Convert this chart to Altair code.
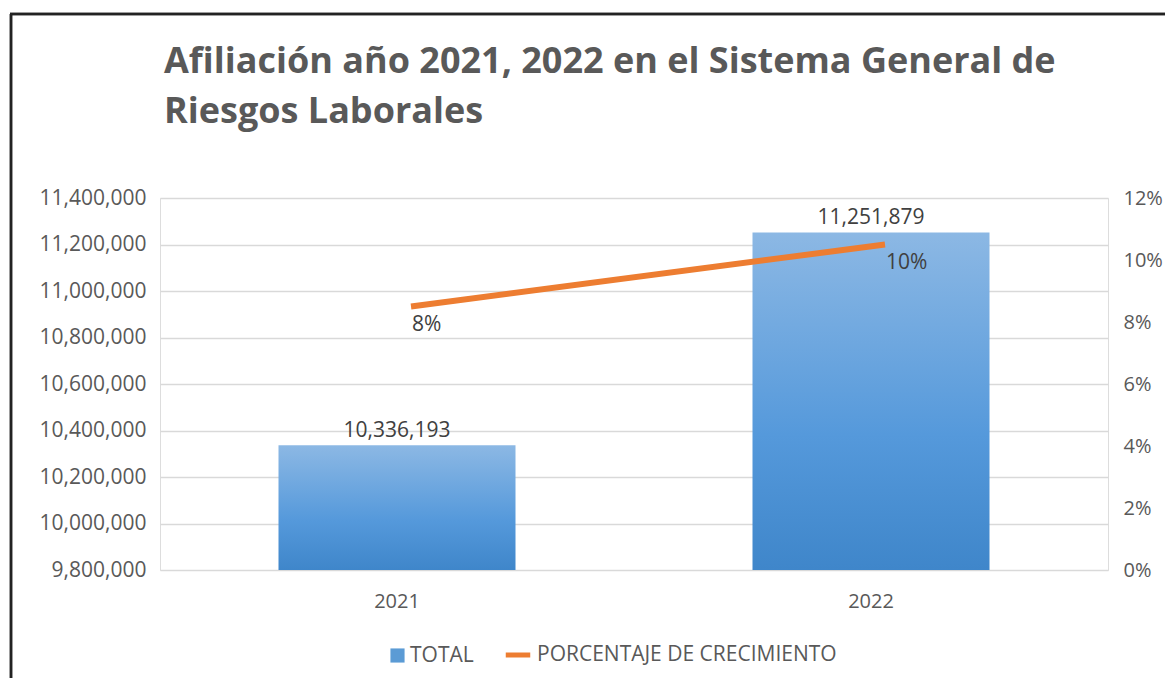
import altair as alt
import pandas as pd

years = ["2021", "2022"]
totals = [10336193, 11251879]
growth = [0.085, 0.105]
growth_labels = ["8%", "10%"]
total_labels = ["10,336,193", "11,251,879"]

AXIS_MIN = 9800000
AXIS_MAX = 11400000
left_ticks = list(range(9800000, 11400001, 200000))
right_ticks = [0, 0.02, 0.04, 0.06, 0.08, 0.10, 0.12]

df = pd.DataFrame({
    "year": years,
    "total": totals,
    "growth": growth,
    "glabel": growth_labels,
    "tlabel": total_labels,
    "s1": ["TOTAL"] * 2,
    "s2": ["PORCENTAJE DE CRECIMIENTO"] * 2,
})

FONT = "Open Sans"
TXT = "#595959"

x = alt.X("year:N", title=None,
          scale=alt.Scale(paddingInner=0.5, paddingOuter=0.25),
          axis=alt.Axis(labelAngle=0, ticks=False, domain=False, labelPadding=21,
                        labelFont=FONT, labelFontSize=20, labelColor=TXT))

yl = alt.Y("total:Q", title=None,
           scale=alt.Scale(domain=[AXIS_MIN, AXIS_MAX], zero=False, nice=False),
           axis=alt.Axis(values=left_ticks, labelExpr="format(datum.value, ',')",
                         ticks=False, domain=False,
                         labelPadding=14, labelFont=FONT, labelFontSize=21, labelColor=TXT,
                         grid=True, gridColor="#d9d9d9", gridWidth=1.5))

grad = alt.Gradient(gradient="linear", x1=0, x2=0, y1=0, y2=1,
                    stops=[alt.GradientStop(color="#8cb8e4", offset=0),
                           alt.GradientStop(color="#5599db", offset=0.6),
                           alt.GradientStop(color="#3f86ca", offset=1)])

base = alt.Chart(df)

bars = base.mark_bar(color=grad).encode(x=x, y=yl, y2=alt.Y2(datum=AXIS_MIN))

bar_legend = base.mark_bar(opacity=0).encode(
    x=x, y=yl, y2=alt.Y2(datum=AXIS_MIN),
    fill=alt.Fill("s1:N", title=None,
                  scale=alt.Scale(domain=["TOTAL"], range=["#5b9bd5"]),
                  legend=alt.Legend(orient="none", legendX=227, legendY=447,
                                    symbolType="square", symbolSize=200, symbolOpacity=1,
                                    labelFont=FONT, labelFontSize=21, labelColor=TXT,
                                    labelOffset=2, labelLimit=400)))

bar_text = base.mark_text(dy=-14, font=FONT, fontSize=21, color="#404040").encode(
    x=x, y=yl, text="tlabel:N")

left = alt.layer(bars, bar_legend, bar_text)

yr = alt.Y("growth:Q", title=None,
           scale=alt.Scale(domain=[0, 0.12], nice=False),
           axis=alt.Axis(orient="right", values=right_ticks, format=".0%", ticks=False,
                         domain=False, grid=False, labelPadding=15, labelFont=FONT,
                         labelFontSize=20, labelColor=TXT))

line = base.mark_line(strokeWidth=6, xOffset=14, strokeCap="butt").encode(
    x=x, y=yr,
    stroke=alt.Stroke("s2:N", title=None,
                      scale=alt.Scale(domain=["PORCENTAJE DE CRECIMIENTO"], range=["#ed7d31"]),
                      legend=alt.Legend(orient="none", legendX=343, legendY=442,
                                        symbolType="stroke", symbolSize=600,
                                        symbolStrokeWidth=5,
                                        labelFont=FONT, labelFontSize=21, labelColor=TXT,
                                        labelOffset=4, labelLimit=400)))

line_text = base.mark_text(align="left", dx=15, dy=18, font=FONT, fontSize=21,
                           color="#404040").encode(x=x, y=yr, text="glabel:N")

right = alt.layer(line, line_text)

border_top = alt.Chart(df).mark_rule(color="#222222", strokeWidth=2.5).encode(
    x=alt.value(-150), x2=alt.value(1100), y=alt.value(-184))
border_left = alt.Chart(df).mark_rule(color="#222222", strokeWidth=2.5).encode(
    x=alt.value(-149), y=alt.value(-184), y2=alt.value(600))

chart = alt.layer(left, right, border_top, border_left).resolve_scale(
    y="independent", fill="independent", stroke="independent"
).properties(
    width=948, height=372,
    title=alt.Title(["Afiliación año 2021, 2022 en el Sistema General de",
                     "Riesgos Laborales"],
                    anchor="start", frame="group", dx=4, offset=-118,
                    font=FONT, fontSize=36, fontWeight="bold", color=TXT,
                    lineHeight=50),
    autosize=alt.AutoSizeParams(type="none"),
    padding={"left": 152, "top": 190, "right": 57, "bottom": 108},
).configure_view(stroke=None).configure(background="white")

chart.save("out.html", embed_options={"renderer": "svg", "actions": False})
